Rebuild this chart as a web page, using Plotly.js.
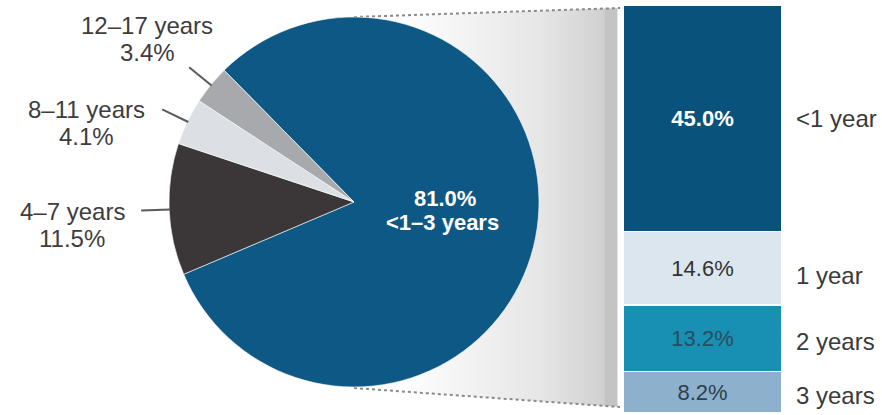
<!DOCTYPE html>
<html><head><meta charset="utf-8">
<script src="https://cdn.plot.ly/plotly-3.0.1.min.js"></script>
<style>html,body{margin:0;padding:0;background:#fff}#chart{width:882px;height:415px}</style>
</head><body><div id="chart"></div>
<script>
// ---- data ----
const pieLabels = ['&lt;1–3 years', '4–7 years', '8–11 years', '12–17 years'];
const pieValues = [81.0, 11.5, 4.1, 3.4];
const pieColors = ['#0d5884', '#3b3738', '#dcdfe3', '#a7a9ac'];
const barLabels = ['&lt;1 year', '1 year', '2 years', '3 years'];
const barValues = [45.0, 14.6, 13.2, 8.2];
const barColors = ['#08527c', '#dce6ee', '#1790b4', '#8db1cc'];
const barTextColors = ['#ffffff', '#333333', '#2a4c5e', '#2d3e4c'];

// ---- geometry (pixels) ----
const W = 882, H = 415;
const cx = 354, cy = 202, R = 185, rotation = -44.6;
const barTop = 5, barBottom = 413, barLeft = 623, barRight = 782;
const FONT = 'Liberation Sans, Arial, sans-serif';

const pieTotal = pieValues.reduce((a, b) => a + b, 0);
const barTotal = barValues.reduce((a, b) => a + b, 0);

function pt(clockDeg, r) {
  const a = clockDeg * Math.PI / 180;
  return [cx + r * Math.sin(a), cy - r * Math.cos(a)];
}

// slice mid angles
const mids = [];
let cum = 0;
pieValues.forEach(v => {
  mids.push(rotation + (cum + v / 2) / pieTotal * 360);
  cum += v;
});

const traces = [];

// connector with gradient
const connX = [cx, barLeft - 3, barLeft - 3, cx];
const connY = [cy - R, barTop + 3, barBottom - 6, cy + R + 1];
traces.push({
  type: 'scatter', mode: 'none', x: connX, y: connY, fill: 'toself',
  fillgradient: {
    type: 'horizontal',
    colorscale: [[0, '#ffffff'], [0.25, '#fbfbfb'], [0.7, '#e6e6e6'], [0.925, '#d2d2d2'],
                 [0.94, '#cfcfcf'], [0.944, '#c4c4c4'], [0.989, '#c4c4c4'], [0.992, '#ffffff'], [1, '#ffffff']]
  },
  hoverinfo: 'skip', xaxis: 'x', yaxis: 'y'
});
traces.push({type: 'scatter', mode: 'lines', x: [connX[0], connX[1]], y: [connY[0], connY[1]],
  line: {color: '#8a8a8a', width: 2, dash: 'dot'}, hoverinfo: 'skip', xaxis: 'x', yaxis: 'y'});
traces.push({type: 'scatter', mode: 'lines', x: [connX[3], connX[2]], y: [connY[3], connY[2]],
  line: {color: '#8a8a8a', width: 2, dash: 'dot'}, hoverinfo: 'skip', xaxis: 'x', yaxis: 'y'});

// pie
traces.push({
  type: 'pie', values: pieValues, labels: pieLabels, sort: false, direction: 'clockwise',
  rotation: rotation, textinfo: 'none', hoverinfo: 'label+percent',
  marker: {colors: pieColors, line: {color: 'rgba(255,255,255,0.6)', width: 1}},
  domain: {x: [(cx - R) / W, (cx + R) / W], y: [(H - (cy + R)) / H, (H - (cy - R)) / H]}
});

// stacked bar (bottom to top)
for (let i = barValues.length - 1; i >= 0; i--) {
  traces.push({
    type: 'bar', x: [0], y: [barValues[i]], width: 1, xaxis: 'x2', yaxis: 'y2',
    marker: {color: barColors[i], line: {color: '#ffffff', width: 1.5}},
    text: [barValues[i].toFixed(1) + '%'], textposition: 'inside', insidetextanchor: 'middle',
    textangle: 0, constraintext: 'none',
    textfont: {family: FONT, size: 22, color: barTextColors[i], weight: i === 0 ? 'bold' : 'normal'},
    hoverinfo: 'skip', name: barLabels[i]
  });
}

const annotations = [];
const shapes = [];

// pie outer labels with leader lines
const labelOffsets = [null, [-69, 14.5], [-76, 13.5], [-42, -28.5]];
for (let i = 1; i < pieValues.length; i++) {
  const p0 = pt(mids[i], R - 1), p1 = pt(mids[i], R + 28);
  shapes.push({type: 'line', xref: 'x', yref: 'y', x0: p0[0], y0: p0[1], x1: p1[0], y1: p1[1],
    line: {color: '#5a5a5a', width: 2}});
  const c = [p1[0] + labelOffsets[i][0], p1[1] + labelOffsets[i][1]];
  annotations.push({xref: 'x', yref: 'y', x: c[0], y: c[1] - 13.5, text: pieLabels[i], showarrow: false,
    xanchor: 'center', yanchor: 'middle', font: {family: FONT, size: 24, color: '#3d3d3d'}});
  annotations.push({xref: 'x', yref: 'y', x: c[0], y: c[1] + 13.5, text: pieValues[i].toFixed(1) + '%', showarrow: false,
    xanchor: 'center', yanchor: 'middle', font: {family: FONT, size: 24, color: '#3d3d3d'}});
}
// big slice label
const pc = pt(mids[0], R * 0.5);
annotations.push({xref: 'x', yref: 'y', x: pc[0], y: pc[1] - 21, text: pieValues[0].toFixed(1) + '%', showarrow: false,
  font: {family: FONT, size: 22, color: '#ffffff', weight: 'bold'}});
annotations.push({xref: 'x', yref: 'y', x: pc[0] - 2, y: pc[1] + 3, text: pieLabels[0], showarrow: false,
  font: {family: FONT, size: 22, color: '#ffffff', weight: 'bold'}});

// bar labels on the right
const labelShift = [0, -7, -3, -3];
let stackTop = barTotal;
barValues.forEach((v, i) => {
  annotations.push({xref: 'x2', yref: 'y2', x: 0.5, y: stackTop - v / 2, xanchor: 'left', xshift: 12,
    yshift: labelShift[i], text: barLabels[i], showarrow: false,
    font: {family: FONT, size: 24, color: '#3a3a3a'}});
  stackTop -= v;
});

const layout = {
  width: W, height: H, margin: {l: 0, r: 0, t: 0, b: 0}, showlegend: false,
  paper_bgcolor: '#ffffff', plot_bgcolor: 'rgba(0,0,0,0)', barmode: 'stack', bargap: 0,
  xaxis: {range: [0, W], domain: [0, 1], visible: false, fixedrange: true},
  yaxis: {range: [H, 0], domain: [0, 1], visible: false, fixedrange: true},
  xaxis2: {range: [-0.5, 0.5], domain: [barLeft / W, barRight / W], anchor: 'y2', visible: false, fixedrange: true},
  yaxis2: {range: [0, barTotal], domain: [(H - barBottom) / H, (H - barTop) / H], anchor: 'x2', visible: false, fixedrange: true},
  annotations: annotations, shapes: shapes, font: {family: FONT}
};

Plotly.newPlot('chart', traces, layout, {displayModeBar: false, staticPlot: true});
</script></body></html>
